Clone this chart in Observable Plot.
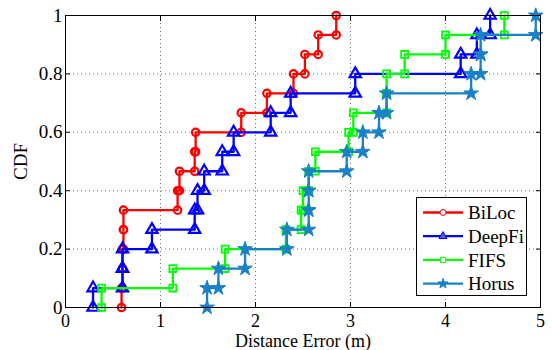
<!DOCTYPE html>
<html><head><meta charset="utf-8">
<script src="https://cdn.jsdelivr.net/npm/d3@7"></script>
<script src="https://cdn.jsdelivr.net/npm/@observablehq/plot@0.6"></script>
<style>
body{margin:0;background:#fff;}
#wrap{position:relative;width:552px;height:350px;font-family:"Liberation Serif",serif;}
#legend{position:absolute;left:416px;top:197px;}
</style></head><body><div id="wrap"></div>
<script>
const seriesNames = ["BiLoc", "DeepFi", "FIFS", "Horus"];
const seriesColors = ["#ff0000", "#0000ff", "#00ff00", "#1a80c8"];
const seriesSymbols = ["circle", "triangle", "square", "star"];
const bilocErrors  = [0.59, 0.60, 0.60, 0.61, 0.61, 1.18, 1.20, 1.36, 1.37, 1.85, 2.12, 2.40, 2.52, 2.66, 2.85];
const deepfiErrors = [0.29, 0.60, 0.60, 0.91, 1.36, 1.39, 1.46, 1.65, 1.77, 2.16, 2.37, 3.05, 4.16, 4.33, 4.47];
const fifsErrors   = [0.38, 1.13, 1.68, 2.32, 2.48, 2.50, 2.56, 2.63, 2.98, 3.03, 3.38, 3.38, 3.57, 4.00, 4.62];
const horusErrors  = [1.49, 1.61, 1.89, 2.33, 2.56, 2.56, 2.56, 2.96, 3.13, 3.30, 3.38, 4.27, 4.37, 4.37, 4.95];
const xTicks = [0, 1, 2, 3, 4, 5];
const yTicks = [0, 0.2, 0.4, 0.6, 0.8, 1];
const xLabel = "Distance Error (m)";
const yLabel = "CDF";

const allErrors = [bilocErrors, deepfiErrors, fifsErrors, horusErrors];
function steps(vals, name) {
  const s = [...vals].sort((a, b) => a - b);
  const out = [];
  s.forEach((v, i) => {
    out.push({name, x: v, y: i / s.length});
    out.push({name, x: v, y: (i + 1) / s.length});
  });
  return out;
}
const dotStyle = [
  {r: 3.7, fill: "none", strokeWidth: 2.2},
  {r: 4.2, fill: "none", strokeWidth: 2.2},
  {r: 3.9, fill: "none", strokeWidth: 1.8},
  {r: 4.6, fill: "fill", strokeWidth: 1}
];
const seriesMarks = [];
seriesNames.forEach((name, k) => {
  const d = steps(allErrors[k], name);
  seriesMarks.push(Plot.line(d, {x: "x", y: "y", stroke: seriesColors[k], strokeWidth: 2.3}));
  const st = dotStyle[k];
  seriesMarks.push(Plot.dot(d, {x: "x", y: "y", symbol: seriesSymbols[k], r: st.r,
    stroke: seriesColors[k], fill: st.fill === "fill" ? seriesColors[k] : "none", strokeWidth: st.strokeWidth}));
});

const grid = {stroke: "#000", strokeOpacity: 0.55, strokeDasharray: "1,3", strokeWidth: 1};
const chart = Plot.plot({
  width: 552, height: 350,
  marginLeft: 65, marginRight: 12, marginTop: 15, marginBottom: 43,
  x: {domain: [0, 5]},
  y: {domain: [0, 1]},
  style: {fontFamily: "Liberation Serif, serif", fontSize: "19px", background: "#fff", color: "#000"},
  marks: [
    Plot.gridX(xTicks.slice(1, -1), grid),
    Plot.gridY(yTicks.slice(1, -1), grid),
    ...seriesMarks,
    Plot.frame({stroke: "#000", strokeWidth: 1}),
    Plot.axisX(xTicks, {anchor: "bottom", tickSize: -5, tickPadding: 12, fontSize: 18, tickFormat: d => String(d),
      label: xLabel, labelAnchor: "center", labelArrow: "none", labelOffset: 39}),
    Plot.axisX(xTicks, {anchor: "top", tickSize: -5, tickFormat: () => "", label: null}),
    Plot.axisY(yTicks, {anchor: "left", tickSize: -5, tickPadding: 8, tickFormat: d => String(d),
      label: yLabel, labelAnchor: "center", labelArrow: "none", labelOffset: 52}),
    Plot.axisY(yTicks, {anchor: "right", tickSize: -5, tickFormat: () => "", label: null})
  ]
});
const wrap = document.getElementById("wrap");
wrap.appendChild(chart);

// legend
const lw = 111, lh = 99;
const lg = d3.create("svg").attr("id", "legend").attr("width", lw).attr("height", lh);
lg.append("rect").attr("x", 0.5).attr("y", 0.5).attr("width", lw - 1).attr("height", lh - 1)
  .attr("fill", "#fff").attr("stroke", "#000");
const legendSym = {circle: d3.symbolCircle, triangle: d3.symbolTriangle, square: d3.symbolSquare, star: d3.symbolStar};
seriesNames.forEach((name, k) => {
  const cy = 15.5 + k * 23.7;
  const g = lg.append("g");
  g.append("line").attr("x1", 7).attr("x2", 47).attr("y1", cy).attr("y2", cy)
    .attr("stroke", seriesColors[k]).attr("stroke-width", 2.3);
  g.append("path").attr("d", d3.symbol(legendSym[seriesSymbols[k]], k === 3 ? 32 : 28)())
    .attr("transform", `translate(27,${cy})`)
    .attr("fill", k === 3 ? seriesColors[k] : (k === 1 ? "#5555dd" : "#fff"))
    .attr("stroke", seriesColors[k]).attr("stroke-width", 1);
  g.append("text").attr("x", 52).attr("y", cy).attr("dy", "0.35em")
    .attr("font-size", 19).attr("font-family", "Liberation Serif, serif")
    .text(name);
});
wrap.appendChild(lg.node());
</script></body></html>
